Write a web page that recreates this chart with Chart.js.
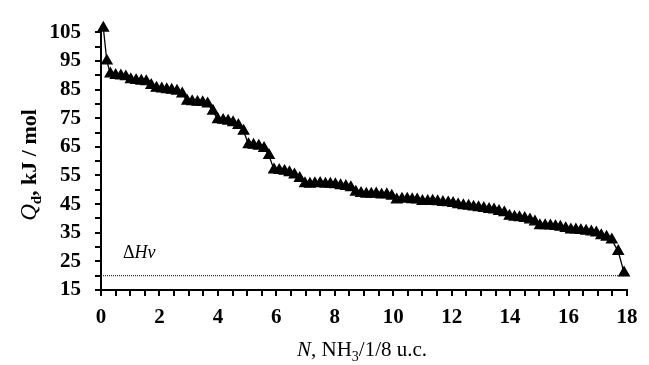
<!DOCTYPE html>
<html>
<head>
<meta charset="utf-8">
<script src="https://cdn.jsdelivr.net/npm/chart.js@4/dist/chart.umd.min.js"></script>
<style>
  html, body { margin: 0; padding: 0; background: #fff; }
  #wrap { width: 649px; height: 365px; }
</style>
</head>
<body>
<div id="wrap"><canvas id="myChart" width="649" height="365"></canvas></div>
<script>
// N, NH3 per 1/8 unit cell
var nList = [0.08, 0.2, 0.32, 0.5, 0.68, 0.85, 1.02, 1.2, 1.38, 1.55, 1.72, 1.9, 2.08, 2.25, 2.42, 2.6, 2.78, 2.95,
  3.12, 3.3, 3.48, 3.65, 3.83, 4.0, 4.18, 4.35, 4.52, 4.7, 4.88, 5.05, 5.22, 5.4, 5.58, 5.75, 5.92, 6.1, 6.28, 6.45,
  6.62, 6.8, 6.98, 7.15, 7.32, 7.5, 7.68, 7.85, 8.02, 8.2, 8.38, 8.55, 8.72, 8.9, 9.08, 9.25, 9.42, 9.6, 9.78, 9.95,
  10.12, 10.3, 10.48, 10.65, 10.82, 11.0, 11.18, 11.35, 11.52, 11.7, 11.88, 12.05, 12.22, 12.4, 12.58, 12.75, 12.92,
  13.1, 13.28, 13.45, 13.62, 13.8, 13.98, 14.15, 14.32, 14.5, 14.68, 14.85, 15.02, 15.2, 15.38, 15.55, 15.72, 15.9,
  16.08, 16.25, 16.42, 16.6, 16.78, 16.95, 17.12, 17.3, 17.48, 17.7, 17.9];
// Qd, kJ/mol
var qList = [106.5, 95, 90.5, 90, 89.8, 89.5, 88.5, 88.2, 88, 87.8, 86.5, 85.5, 85.3, 85, 84.8, 84.5, 83.5, 81,
  80.8, 80.6, 80.5, 80, 77.5, 74.5, 74.3, 74, 73.5, 72.5, 70.5, 65.8, 65.6, 65.3, 64.5, 62, 57, 56.8, 56.5, 56,
  55.2, 54, 52.2, 52, 52.2, 52.3, 52, 52, 51.8, 51.5, 51.2, 50.8, 49.2, 48.8, 48.5, 48.5, 48.6, 48.2, 48.3, 47.8,
  46.5, 46.8, 46.8, 46.6, 46.5, 46, 46, 46.1, 45.9, 45.6, 45.5, 45.3, 44.8, 44.5, 44.3, 44, 43.8,
  43.5, 43.2, 43, 42.5, 42, 40.8, 40.5, 40.3, 40, 39.5, 38.8, 37.5, 37.5, 37.4, 37.2, 37, 36.5,
  36, 36, 35.8, 35.6, 35.3, 35, 34, 33.5, 32.5, 28.5, 21];
// heat of vaporisation level
var hvN = [0, 18];
var hvQ = [20, 20];

var xTicks = [0, 0.5, 1, 1.5, 2, 2.5, 3, 3.5, 4, 4.5, 5, 5.5, 6, 6.5, 7, 7.5, 8, 8.5, 9, 9.5, 10, 10.5, 11, 11.5,
  12, 12.5, 13, 13.5, 14, 14.5, 15, 15.5, 16, 16.5, 17, 17.5, 18];
var xLabels = [0, 2, 4, 6, 8, 10, 12, 14, 16, 18];
var yTicks = [15, 20, 25, 30, 35, 40, 45, 50, 55, 60, 65, 70, 75, 80, 85, 90, 95, 100, 105];
var yLabels = [15, 25, 35, 45, 55, 65, 75, 85, 95, 105];

var serif = "'Liberation Serif', 'Times New Roman', serif";

var points = [];
for (var i = 0; i < nList.length; i++) points.push({x: nList[i], y: qList[i]});
var hvLine = [];
for (var j = 0; j < hvN.length; j++) hvLine.push({x: hvN[j], y: hvQ[j]});

// axis titles with italic / subscript parts
var titles = {
  id: 'titles',
  afterDraw: function(chart) {
    var c = chart.ctx;
    c.save();
    c.fillStyle = '#000';
    c.textBaseline = 'alphabetic';
    // x title: N, NH3/1/8 u.c.
    var parts = [
      {t: 'N', f: 'italic 21px ' + serif, dy: 0},
      {t: ', NH', f: '21px ' + serif, dy: 0},
      {t: '3', f: '14px ' + serif, dy: 5},
      {t: '/1/8 u.c.', f: '21px ' + serif, dy: 0}
    ];
    var w = 0;
    parts.forEach(function(p) { c.font = p.f; w += c.measureText(p.t).width; });
    var x = 362 - w / 2;
    parts.forEach(function(p) { c.font = p.f; c.fillText(p.t, x, 356 + p.dy); x += c.measureText(p.t).width; });

    // y title: Qd, kJ / mol (rotated)
    var yp = [
      {t: 'Q', f: 'italic 23px ' + serif, dy: 0},
      {t: 'd', f: 'bold 15px ' + serif, dy: 5},
      {t: ', kJ / mol', f: 'bold 22px ' + serif, dy: 0}
    ];
    c.translate(36, 165);
    c.rotate(-Math.PI / 2);
    w = 0;
    yp.forEach(function(p) { c.font = p.f; w += c.measureText(p.t).width; });
    x = -w / 2;
    yp.forEach(function(p) { c.font = p.f; c.fillText(p.t, x, p.dy); x += c.measureText(p.t).width; });
    c.restore();

    // label for the dotted level
    c.save();
    c.fillStyle = '#000';
    c.font = '18px ' + serif;
    c.fillText('\u0394', 123, 258);
    var dw = c.measureText('\u0394').width;
    c.font = 'italic 18px ' + serif;
    c.fillText('Hv', 123 + dw, 258);
    c.restore();
  }
};

var ctx = document.getElementById('myChart').getContext('2d');
var chart = new Chart(ctx, {
  type: 'scatter',
  data: {
    datasets: [{
      label: 'Qd',
      data: points,
      showLine: true,
      borderColor: '#000',
      backgroundColor: '#000',
      borderWidth: 1.3,
      pointStyle: 'triangle',
      pointRadius: 6,
      pointHoverRadius: 6,
      clip: false
    }, {
      label: 'dHv',
      data: hvLine,
      showLine: true,
      borderColor: '#000',
      borderWidth: 1,
      borderDash: [1, 1],
      pointRadius: 0
    }]
  },
  options: {
    responsive: false,
    animation: false,
    layout: {padding: {left: 0, top: 21, right: 22, bottom: 0}},
    plugins: {legend: {display: false}, tooltip: {enabled: false}},
    scales: {
      x: {
        type: 'linear',
        min: 0,
        max: 18,
        afterBuildTicks: function(s) { s.ticks = xTicks.map(function(v) { return {value: v}; }); },
        afterFit: function(s) { s.height = 75; },
        border: {color: '#000', width: 2},
        grid: {drawOnChartArea: false, color: '#000', lineWidth: 2, tickLength: 6},
        ticks: {
          autoSkip: false,
          maxRotation: 0,
          padding: 9,
          color: '#000',
          font: {family: serif, size: 21, weight: 'bold'},
          callback: function(v) { return xLabels.indexOf(v) >= 0 ? String(v) : ''; }
        }
      },
      y: {
        type: 'linear',
        min: 15,
        max: 107,
        afterBuildTicks: function(s) { s.ticks = yTicks.map(function(v) { return {value: v}; }); },
        afterFit: function(s) { s.width = 101; },
        border: {color: '#000', width: 2},
        grid: {drawOnChartArea: false, color: '#000', lineWidth: 2, tickLength: 6},
        ticks: {
          autoSkip: false,
          padding: 14,
          color: '#000',
          font: {family: serif, size: 21, weight: 'bold'},
          callback: function(v) { return yLabels.indexOf(v) >= 0 ? String(v) : ''; }
        }
      }
    }
  },
  plugins: [titles]
});
</script>
</body>
</html>
